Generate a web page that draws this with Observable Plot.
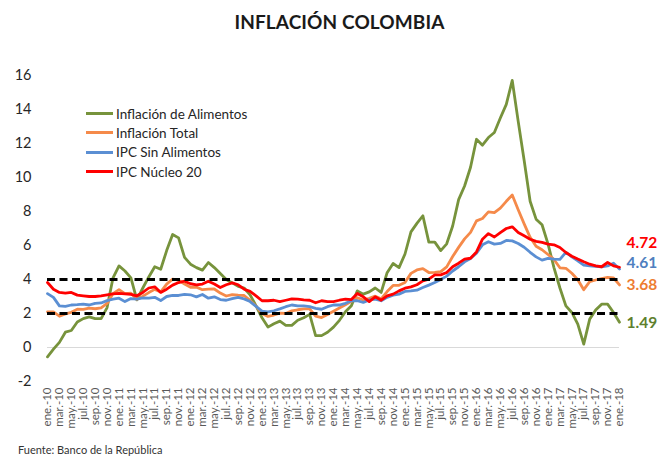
<!DOCTYPE html>
<html>
<head>
<meta charset="utf-8">
<script src="https://cdn.jsdelivr.net/npm/d3@7"></script>
<script src="https://cdn.jsdelivr.net/npm/@observablehq/plot@0.6"></script>
<style>
  body { margin: 0; background: #fff; font-family: Lato, "Open Sans", sans-serif; }
  #wrap { position: relative; width: 657px; height: 456px; overflow: hidden; }
  #title { height: 40px; line-height: 44px; text-align: center; padding-left: 22px; box-sizing: border-box; font-weight: 700; font-size: 19px; color: #1a1a1a; letter-spacing: 0.1px; }
  #caption { position: absolute; left: 18px; top: 443px; font-size: 11px; color: #333; line-height: 13px; }
  #legend { position: absolute; left: 86px; top: 104px; font-size: 13.5px; color: #262626; }
  .row { height: 19.3px; display: flex; align-items: center; }
  .sw { width: 27px; height: 3px; margin-right: 3px; }
</style>
</head>
<body>
<div id="wrap">
  <div id="title">INFLACIÓN COLOMBIA</div>
  <div id="chart"></div>
  <div id="legend"></div>
  <div id="caption">Fuente: Banco de la República</div>
</div>
<script>
// Month abbreviations for tick labels (ene.-10 ... ene.-18)
const monthNames = ["ene.","feb.","mar.","abr.","may.","jun.","jul.","ago.","sep.","oct.","nov.","dic."];
const startYear = 10;

// Inflación de Alimentos (annual %), monthly ene-10 .. ene-18
const alimentos = [
  -0.55,-0.1,0.3,0.9,1.0,1.5,1.7,1.8,1.7,1.7,2.35,4.1,
  4.8,4.5,4.1,2.8,3.5,4.15,4.75,4.6,5.7,6.65,6.45,5.3,
  4.9,4.7,4.55,5.0,4.7,4.35,4.0,3.8,3.6,3.5,3.1,2.45,
  1.75,1.2,1.4,1.55,1.3,1.3,1.6,1.75,1.95,0.7,0.7,0.9,
  1.2,1.6,2.1,2.45,3.33,3.14,3.27,3.5,3.24,4.4,4.94,4.7,
  5.5,6.8,7.3,7.75,6.2,6.2,5.7,6.1,7.15,8.7,9.5,10.6,
  12.25,11.9,12.35,12.65,13.5,14.3,15.71,13.3,11.0,8.6,7.55,7.22,
  6.1,4.7,3.5,2.45,2.06,1.37,0.2,1.67,2.2,2.55,2.55,2.06,
  1.49
];
// Inflación Total
const total = [
  2.10,2.09,1.84,1.98,2.07,2.25,2.24,2.31,2.28,2.33,2.59,3.17,
  3.40,3.17,3.19,2.84,3.02,3.23,3.42,3.27,3.73,4.02,3.96,3.73,
  3.54,3.55,3.40,3.43,3.44,3.20,3.03,3.11,3.08,3.06,2.77,2.44,
  2.00,1.83,1.91,2.02,2.00,2.16,2.22,2.27,2.27,1.84,1.76,1.94,
  2.13,2.32,2.51,2.72,2.93,2.79,2.89,3.02,2.86,3.29,3.65,3.66,
  3.82,4.36,4.56,4.64,4.41,4.42,4.46,4.74,5.35,5.89,6.39,6.77,
  7.45,7.59,7.98,7.93,8.20,8.60,8.97,8.10,7.27,6.48,5.96,5.75,
  5.47,5.18,4.69,4.66,4.37,3.99,3.40,3.87,3.97,4.05,4.12,4.09,
  3.68
];
// IPC Sin Alimentos
const sinAlimentos = [
  3.17,2.95,2.45,2.42,2.5,2.52,2.55,2.5,2.6,2.62,2.76,2.85,
  2.9,2.7,2.88,2.85,2.92,2.9,2.95,2.76,3.0,3.06,3.06,3.12,
  3.1,2.98,3.12,2.9,2.98,2.82,2.78,2.88,2.95,2.86,2.7,2.42,
  2.14,2.1,2.16,2.27,2.4,2.5,2.45,2.45,2.4,2.3,2.25,2.4,
  2.5,2.5,2.6,2.75,2.75,2.65,2.8,2.85,2.75,2.95,3.08,3.14,
  3.3,3.33,3.37,3.53,3.67,3.82,4.0,4.2,4.5,4.75,5.04,5.24,
  5.55,6.04,6.22,6.08,6.12,6.3,6.27,6.12,5.9,5.6,5.33,5.14,
  5.24,5.2,5.18,5.6,5.33,5.1,4.84,4.8,4.78,4.75,4.8,4.96,
  4.61
];
// IPC Núcleo 20
const nucleo20 = [
  3.82,3.43,3.24,3.2,3.24,3.08,3.04,3.0,3.0,3.04,3.1,3.16,
  3.18,3.16,3.12,3.04,3.24,3.5,3.57,3.24,3.43,3.67,3.82,3.9,
  3.75,3.69,3.73,3.9,3.73,3.53,3.69,3.8,3.69,3.43,3.3,3.04,
  2.75,2.75,2.78,2.7,2.78,2.86,2.84,2.8,2.78,2.63,2.75,2.7,
  2.7,2.78,2.84,2.82,3.18,2.98,2.7,2.98,2.78,3.04,3.14,3.33,
  3.49,3.57,3.69,3.92,4.02,4.27,4.27,4.41,4.75,4.96,5.2,5.25,
  5.62,6.37,6.7,6.5,6.76,7.0,7.1,6.76,6.57,6.37,6.24,6.18,
  6.08,6.04,5.88,5.59,5.37,5.2,5.04,4.9,4.8,4.75,5.0,4.8,
  4.72
];
const seriesNames = ["Inflación de Alimentos","Inflación Total","IPC Sin Alimentos","IPC Núcleo 20"];
const targetBands = [2, 4];
const yTicks = [-2,0,2,4,6,8,10,12,14,16];

const colors = {
  "Inflación de Alimentos": "#77933C",
  "Inflación Total": "#F58A4A",
  "IPC Sin Alimentos": "#5B8FD3",
  "IPC Núcleo 20": "#FF0000"
};
const labelColors = {
  "Inflación de Alimentos": "#5E7F2E",
  "Inflación Total": "#ED7D31",
  "IPC Sin Alimentos": "#4F7FC0",
  "IPC Núcleo 20": "#FF0000"
};

const label = i => monthNames[i % 12] + "-" + (startYear + Math.floor(i / 12));
const allSeries = [alimentos, total, sinAlimentos, nucleo20];
const rows = allSeries.flatMap((arr, s) => arr.map((v, i) => ({i, v, serie: seriesNames[s]})));
const last = allSeries.map((arr, s) => ({i: arr.length - 1, v: arr[arr.length - 1], serie: seriesNames[s]}));
const n = alimentos.length;

const lineMarks = seriesNames.map(name =>
  Plot.line(rows.filter(d => d.serie === name), {x: "i", y: "v", stroke: colors[name], strokeWidth: 2.8, strokeLinejoin: "round"})
);
const labelDy = {"IPC Núcleo 20": -24, "IPC Sin Alimentos": -6, "Inflación Total": 0, "Inflación de Alimentos": 1};
const endLabels = last.map(d =>
  Plot.text([d], {x: "i", y: "v", text: e => e.v.toFixed(2), dx: 7, dy: labelDy[d.serie], textAnchor: "start",
    fill: labelColors[d.serie], fontWeight: "bold", fontSize: 15.5})
);

const chart = Plot.plot({
  width: 657,
  height: 400,
  marginTop: 35,
  marginBottom: 59,
  marginLeft: 47,
  marginRight: 38,
  style: {fontFamily: "Lato, 'Open Sans', sans-serif", background: "white", overflow: "visible"},
  x: {type: "linear", domain: [0, n - 1]},
  y: {domain: [-2, 16]},
  marks: [
    Plot.ruleY([0], {stroke: "#d9d9d9", strokeWidth: 1}),
    Plot.axisY({ticks: yTicks, tickFormat: d => (d < 0 ? "-" : "") + Math.abs(d), tickSize: 0, tickPadding: 16,
      fontSize: 14.5, fill: "#262626", label: null}),
    Plot.axisX({ticks: d3.range(0, n, 2), tickFormat: label, tickRotate: -90, tickSize: 0, tickPadding: 6,
      fontSize: 11.5, fill: "#595959", label: null}),
    ...lineMarks,
    Plot.ruleY(targetBands, {stroke: "black", strokeWidth: 3, strokeDasharray: "8,4.5"}),
    ...endLabels
  ]
});
document.getElementById("chart").appendChild(chart);

const legend = document.getElementById("legend");
seriesNames.forEach(name => {
  const r = document.createElement("div");
  r.className = "row";
  r.innerHTML = `<span class="sw" style="background:${colors[name]}"></span><span>${name}</span>`;
  legend.appendChild(r);
});
</script>
</body>
</html>
